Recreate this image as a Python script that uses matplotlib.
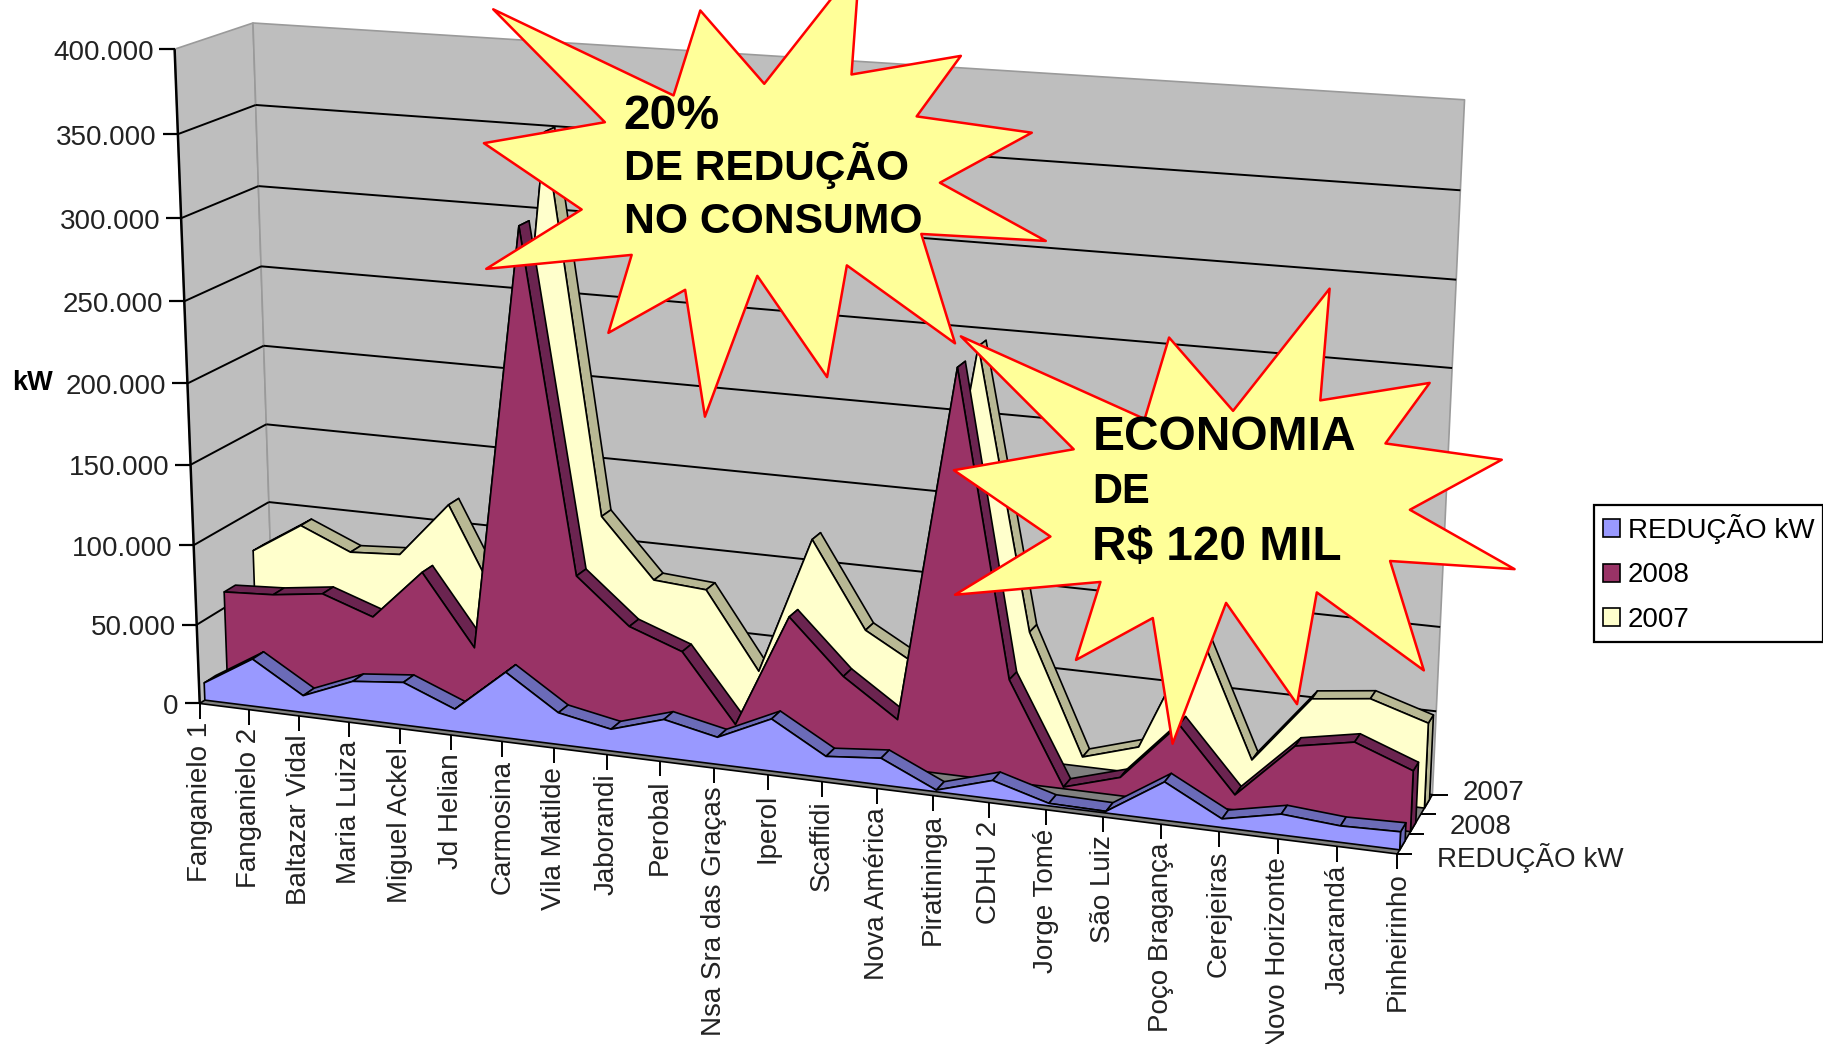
import numpy as np
import matplotlib
matplotlib.use("Agg")
import matplotlib.pyplot as plt
from matplotlib.patches import Polygon, Patch

plt.rcParams['font.family'] = ['Liberation Sans', 'DejaVu Sans']

bairros = ["Fanganielo 1", "Fanganielo 2", "Baltazar Vidal", "Maria Luiza", "Miguel Ackel",
           "Jd Helian", "Carmosina", "Vila Matilde", "Jaborandi", "Perobal",
           "Nsa Sra das Graças", "Iperol", "Scaffidi", "Nova América", "Piratininga",
           "CDHU 2", "Jorge Tomé", "São Luiz", "Poço Bragança", "Cerejeiras",
           "Novo Horizonte", "Jacarandá", "Pinheirinho"]

reducao = [11000, 30000, 10700, 23600, 26800, 14000, 40900, 19700, 13500, 23500, 16600, 31800,
           13100, 16100, 1000, 11000, 1500, 1000, 22700, 5100, 12200, 9600, 10500]
kw_2008 = [60000, 61800, 66000, 55000, 86600, 43000, 303000, 95000, 67500, 55700, 14600, 84400,
           52000, 29600, 242000, 61600, 1000, 11000, 46600, 8900, 42000, 48400, 35700]
kw_2007 = [75000, 94600, 81000, 83000, 117800, 56600, 351000, 120600, 84500, 82000, 35000, 120000,
           68000, 49400, 245000, 78000, 5800, 16000, 90500, 16300, 57000, 61000, 50500]

y_ticks = [0, 50000, 100000, 150000, 200000, 250000, 300000, 350000, 400000]
y_labels = ["0", "50.000", "100.000", "150.000", "200.000", "250.000", "300.000", "350.000", "400.000"]
series_names = ["REDUÇÃO kW", "2008", "2007"]

# camera calibration: (categoria, kW, profundidade) -> position on the canvas
calib_3d = [(0, 0, 0), (22, 0, 0), (0, 400000, 0), (0, 400000, 3), (22, 400000, 3), (22, 0, 3),
            (0, 0, 3), (0, 200000, 0), (0, 200000, 3), (11, 0, 0), (22, 100000, 3)]
calib_2d = [(172, 605), (1202, 733), (150, 43), (218, 19), (1259, 86), (1231, 683),
            (236, 563), (161, 329), (226, 297), (659, 665.5), (1238, 539)]


def fit_camera():
    rows, rhs = [], []
    for (c, v, d), (x, y) in zip(calib_3d, calib_2d):
        c, v, d = c / 22, v / 400000, d / 3
        rows.append([c, v, d, 1, 0, 0, 0, 0, -x * c, -x * v, -x * d])
        rhs.append(x)
        rows.append([0, 0, 0, 0, c, v, d, 1, -y * c, -y * v, -y * d])
        rhs.append(y)
    m = np.linalg.lstsq(np.array(rows, float), np.array(rhs, float), rcond=None)[0]
    return np.append(m, 1).reshape(3, 4)


CAM = fit_camera()


def project(c, v, d):
    c, v, d = np.broadcast_arrays(np.asarray(c, float), np.asarray(v, float), np.asarray(d, float))
    p = np.stack([c / 22, v / 400000, d / 3, np.ones_like(c, dtype=float)])
    q = CAM @ p.reshape(4, -1)
    return np.column_stack([q[0] / q[2], q[1] / q[2]])


fig = plt.figure(figsize=(18.24, 10.44), dpi=100)
ax = fig.add_axes([0, 0, 1, 1])
ax.set_xlim(0, 1568)
ax.set_ylim(897, 0)
ax.axis("off")

WALL = "#bebebe"
idx = np.arange(len(bairros))


def poly(pts, face, edge="black", lw=1.2, z=1):
    ax.add_patch(Polygon(pts, closed=True, facecolor=face, edgecolor=edge, linewidth=lw, zorder=z, joinstyle="round"))


def line(pts, color="black", lw=1.4, z=2):
    pts = np.asarray(pts)
    ax.plot(pts[:, 0], pts[:, 1], color=color, lw=lw, zorder=z, solid_capstyle="butt")


# paredes e piso
top = 400000
poly(project([0, 0, 0, 0], [0, top, top, 0], [0, 0, 3, 3]), WALL, edge="#9a9a9a", z=1)
poly(project([0, 22, 22, 0], [0, 0, top, top], [3, 3, 3, 3]), WALL, edge="#9a9a9a", z=1)
poly(project([0, 22, 22, 0], [0, 0, 0, 0], [0, 0, 3, 3]), "#808080", edge="black", z=1.5)

for v in y_ticks[1:-1]:
    line(project([0, 0], [v, v], [0, 3]))
    line(project([0, 22], [v, v], [3, 3]))

# eixo de valores
line(project([0, 0], [0, top], [0, 0]), lw=1.8, z=8)
for v, lab in zip(y_ticks, y_labels):
    x, y = project(0, v, 0)[0]
    line([(x - 13, y), (x, y)], lw=1.6, z=8)
    ax.text(x - 18, y + 3, lab, ha="right", va="center", fontsize=20, color="#222222", zorder=8)
ax.text(10, 329, "kW", fontsize=19.5, fontweight="bold", ha="left", va="center", color="black", zorder=8)

# eixo das categorias
for i, nome in zip(idx, bairros):
    x, y = project(i, 0, 0)[0]
    line([(x, y), (x, y + 13)], lw=1.4, z=8)
    ax.text(x, y + 16, nome, rotation=90, ha="center", va="top", fontsize=20, color="#222222", zorder=8)

# eixo de profundidade
label_x = [1235, 1246, 1257]
label_dy = [12, 3, -10]
for k in range(4):
    x, y = project(22, 0, k)[0]
    line([(x, y), (x + 13, y)], lw=1.4, z=8)
for k, nome in enumerate(series_names):
    y = project(22, 0, k + 0.5)[0][1]
    ax.text(label_x[k], y + label_dy[k], nome, ha="left", va="center", fontsize=20, color="#222222", zorder=8)

# series: 2007 ao fundo, reducao na frente
depths = [0.2, 1.1, 2.3]
WIDTH = 0.45
values = [reducao, kw_2008, kw_2007]
faces = ["#9999ff", "#993366", "#ffffcc"]
tops = ["#6b6bb8", "#6b2450", "#b8b894"]

z = 3
for k in [2, 1, 0]:
    v = np.array(values[k], float)
    d0, d1 = depths[k], depths[k] + WIDTH
    # right end cap and top ribbon, then the front face over them
    poly(project([22, 22, 22, 22], [0, v[-1], v[-1], 0], [d0, d0, d1, d1]), tops[k], z=z)
    for i in idx[:-1]:
        cs = [i, i + 1, i + 1, i]
        vs = [v[i], v[i + 1], v[i + 1], v[i]]
        poly(project(cs, vs, [d0, d0, d1, d1]), tops[k], z=z)
    front = np.vstack([project(idx, v, d0), project(idx[::-1], np.zeros(len(idx)), d0)])
    poly(front, faces[k], z=z + 0.5)
    z += 1

# legenda
handles = [Patch(facecolor=f, edgecolor="black", linewidth=1.2) for f in faces]
leg = ax.legend(handles, series_names, loc="upper left", bbox_to_anchor=(1370, 434, 197, 118),
                bbox_transform=ax.transData, mode="expand", fontsize=20, frameon=True, fancybox=False,
                edgecolor="black", framealpha=1, handlelength=0.62, handleheight=0.62,
                handletextpad=0.3, labelspacing=0.66, borderpad=0.32, borderaxespad=0)
leg.get_frame().set_linewidth(1.6)
leg.set_zorder(9)

# estrelas com os destaques
star_a = [(424, 8), (579, 82), (602, 9), (657, 72), (739, -32), (732, 64), (826, 48), (788, 100),
          (887, 114), (808, 157), (899, 207), (792, 201), (821, 295), (728, 228), (711, 324),
          (651, 237), (606, 358), (589, 249), (523, 286), (543, 219), (418, 231), (500, 180),
          (416, 123), (520, 105)]
star_b = [(826, 289), (984, 360), (1005, 290), (1060, 353), (1143, 248), (1135, 344), (1229, 329),
          (1191, 381), (1291, 395), (1212, 438), (1302, 489), (1195, 482), (1224, 576), (1132, 509),
          (1115, 605), (1054, 518), (1008, 639), (991, 531), (925, 567), (946, 500), (821, 511),
          (903, 461), (820, 404), (923, 386)]
poly(star_a, "#ffff99", edge="#ff0000", lw=1.8, z=12)
poly(star_b, "#ffff99", edge="#ff0000", lw=1.8, z=12)

for texto, x, y, fs in [("20%", 536, 111, 34.7), ("DE REDUÇÃO", 536, 155, 30.5), ("NO CONSUMO", 536, 200, 30.7),
                        ("ECONOMIA", 939, 387, 34.5), ("DE", 939, 432, 30), ("R$ 120 MIL", 939, 481, 34.4)]:
    ax.text(x, y, texto, fontsize=fs, fontweight="bold", ha="left", va="baseline", color="black", zorder=13)

fig.savefig("out.png", dpi=100, facecolor="white")
